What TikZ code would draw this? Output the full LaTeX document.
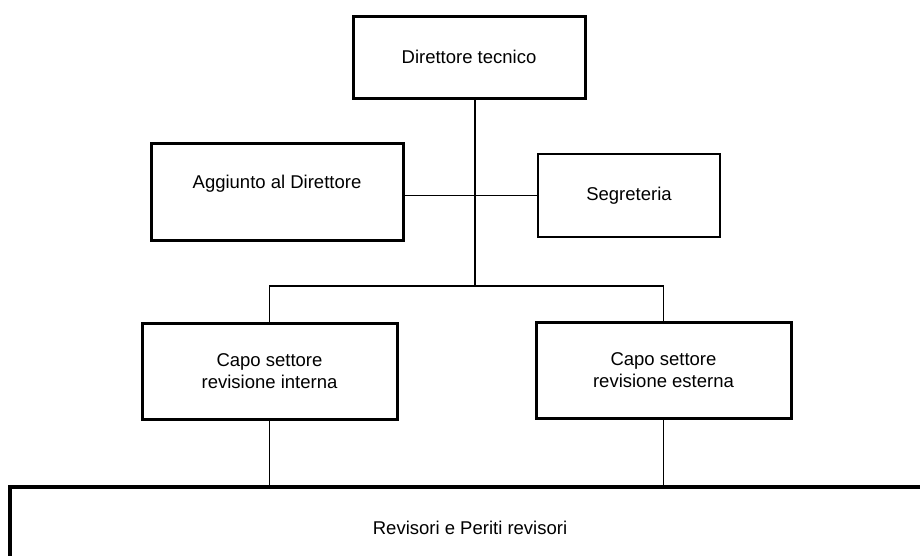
\documentclass[tikz,border=0pt]{standalone}
\usepackage{fontspec}
\setmainfont{Liberation Sans}
\begin{document}
\begin{tikzpicture}[x=1pt,y=-1pt,
  every node/.style={font=\fontsize{18.5}{22}\selectfont, align=center, inner sep=0pt},
  thickbox/.style={draw, line width=3pt, rectangle},
  thinbox/.style={draw, line width=1.5pt, rectangle},
  conn/.style={draw, line width=1.5pt}]
\useasboundingbox (0,0) rectangle (920,555);
\clip (0,0) rectangle (920,555);
\node[thickbox, minimum width=232pt, minimum height=82pt] (dir) at (469,57) {Direttore tecnico};
\node[thickbox, minimum width=252pt, minimum height=97pt, text depth=20pt, text height=13pt] (agg) at (277,191.5) {Aggiunto al Direttore};
\node[thinbox, minimum width=182pt, minimum height=83pt] (seg) at (629,195.5) {Segreteria};
\node[thickbox, minimum width=255pt, minimum height=96pt] (int) at (269.5,371) {Capo settore\\revisione interna};
\node[thickbox, minimum width=255pt, minimum height=96pt] (est) at (663.5,370) {Capo settore\\revisione esterna};
\node[thickbox, line width=3.5pt, minimum width=920pt, minimum height=82pt] (rev) at (470,528) {Revisori e Periti revisori};
\coordinate (hub) at (475,286);
\draw[conn] (dir.south -| hub) -- (hub);
\draw[conn] (agg.east |- seg.west) -- (seg.west);
\draw[conn] (int.north) |- (est.north |- hub) -- (est.north);
\draw[conn] (int.south) -- (int.south |- rev.north);
\draw[conn] (est.south) -- (est.south |- rev.north);
\end{tikzpicture}
\end{document}
